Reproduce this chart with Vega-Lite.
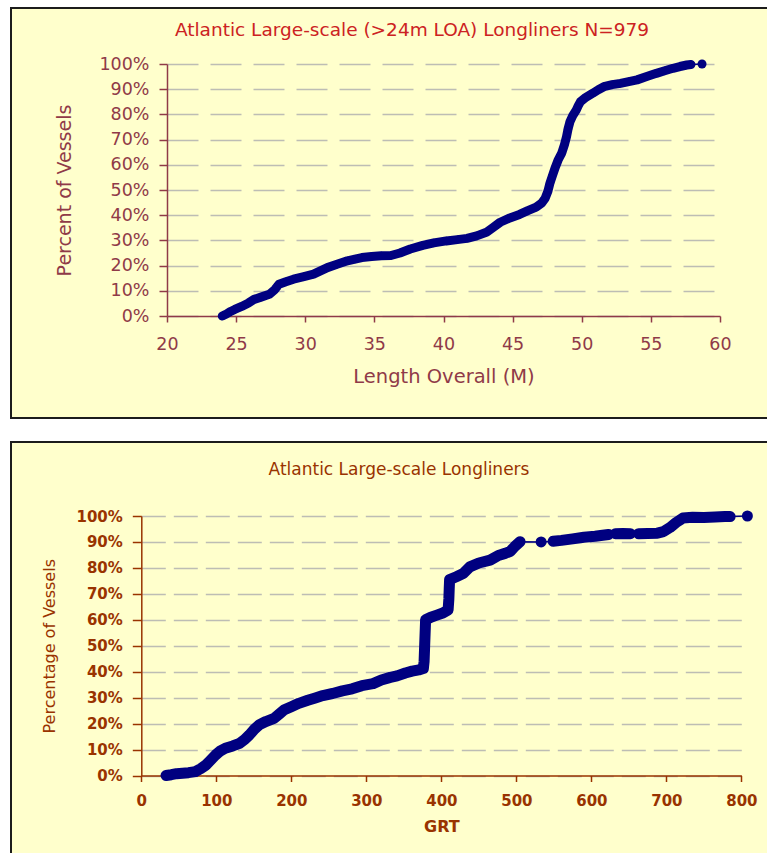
{
  "$schema": "https://vega.github.io/schema/vega-lite/v6.json",
  "background": "white",
  "padding": {"left": 10, "top": 7, "right": -3, "bottom": -4},
  "spacing": 22,
  "config": {
    "view": {"fill": "#FFFFCC", "stroke": "#1c1c1c", "strokeWidth": 2},
    "font": "DejaVu Sans",
    "axis": {"labelFlush": false, "labelOverlap": false}
  },
  "datasets": {
    "loa": [
      {"L": 24.0, "p": 0, "s": 1}, {"L": 24.3, "p": 0.8, "s": 1}, {"L": 24.6, "p": 1.8, "s": 1},
      {"L": 24.9, "p": 2.6, "s": 1}, {"L": 25.4, "p": 3.8, "s": 1}, {"L": 25.9, "p": 5.2, "s": 1},
      {"L": 26.3, "p": 6.6, "s": 1}, {"L": 26.8, "p": 7.5, "s": 1}, {"L": 27.4, "p": 8.6, "s": 1},
      {"L": 27.8, "p": 10.5, "s": 1}, {"L": 28.1, "p": 12.6, "s": 1}, {"L": 28.6, "p": 13.6, "s": 1},
      {"L": 29.15, "p": 14.6, "s": 1}, {"L": 29.9, "p": 15.6, "s": 1}, {"L": 30.6, "p": 16.6, "s": 1},
      {"L": 31.1, "p": 17.9, "s": 1}, {"L": 31.6, "p": 19.2, "s": 1}, {"L": 32.3, "p": 20.5, "s": 1},
      {"L": 33.05, "p": 21.9, "s": 1}, {"L": 33.6, "p": 22.6, "s": 1}, {"L": 34.1, "p": 23.2, "s": 1},
      {"L": 34.8, "p": 23.6, "s": 1}, {"L": 35.5, "p": 23.9, "s": 1}, {"L": 36.2, "p": 24.0, "s": 1},
      {"L": 36.85, "p": 25.0, "s": 1}, {"L": 37.6, "p": 26.6, "s": 1}, {"L": 38.5, "p": 28.0, "s": 1},
      {"L": 39.3, "p": 29.0, "s": 1}, {"L": 40.2, "p": 29.8, "s": 1}, {"L": 41.0, "p": 30.3, "s": 1},
      {"L": 41.7, "p": 30.8, "s": 1}, {"L": 42.4, "p": 31.8, "s": 1}, {"L": 43.1, "p": 33.2, "s": 1},
      {"L": 43.6, "p": 35.2, "s": 1}, {"L": 44.1, "p": 37.2, "s": 1}, {"L": 44.8, "p": 38.9, "s": 1},
      {"L": 45.5, "p": 40.3, "s": 1}, {"L": 46.1, "p": 41.8, "s": 1}, {"L": 46.7, "p": 43.2, "s": 1},
      {"L": 47.1, "p": 44.8, "s": 1}, {"L": 47.35, "p": 46.7, "s": 1}, {"L": 47.55, "p": 49.5, "s": 1},
      {"L": 47.7, "p": 52.7, "s": 1}, {"L": 47.9, "p": 56.0, "s": 1}, {"L": 48.1, "p": 59.2, "s": 1},
      {"L": 48.3, "p": 62.0, "s": 1}, {"L": 48.55, "p": 64.6, "s": 1}, {"L": 48.75, "p": 68.0, "s": 1},
      {"L": 48.9, "p": 71.2, "s": 1}, {"L": 49.0, "p": 74.0, "s": 1}, {"L": 49.15, "p": 77.1, "s": 1},
      {"L": 49.35, "p": 79.5, "s": 1}, {"L": 49.6, "p": 81.7, "s": 1}, {"L": 49.75, "p": 83.5, "s": 1},
      {"L": 49.9, "p": 85.0, "s": 1}, {"L": 50.3, "p": 86.8, "s": 1}, {"L": 50.8, "p": 88.4, "s": 1},
      {"L": 51.2, "p": 89.8, "s": 1}, {"L": 51.6, "p": 91.0, "s": 1}, {"L": 52.2, "p": 91.8, "s": 1},
      {"L": 52.8, "p": 92.3, "s": 1}, {"L": 53.4, "p": 93.0, "s": 1}, {"L": 54.0, "p": 93.7, "s": 1},
      {"L": 54.7, "p": 95.0, "s": 1}, {"L": 55.4, "p": 96.3, "s": 1}, {"L": 56.0, "p": 97.3, "s": 1},
      {"L": 56.6, "p": 98.3, "s": 1}, {"L": 57.1, "p": 99.0, "s": 1}, {"L": 57.6, "p": 99.6, "s": 1},
      {"L": 57.9, "p": 99.8, "s": 1}, {"L": 58.7, "p": 100, "s": 2}
    ],
    "grt": [
      {"G": 33, "q": 0, "s": 1}, {"G": 40, "q": 0.3, "s": 1}, {"G": 47, "q": 0.7, "s": 1},
      {"G": 55, "q": 0.9, "s": 1}, {"G": 63, "q": 1.1, "s": 1}, {"G": 72, "q": 1.5, "s": 1},
      {"G": 79, "q": 2.6, "s": 1}, {"G": 86, "q": 4.0, "s": 1}, {"G": 92, "q": 5.8, "s": 1},
      {"G": 99, "q": 7.9, "s": 1}, {"G": 105, "q": 9.4, "s": 1}, {"G": 112, "q": 10.5, "s": 1},
      {"G": 122, "q": 11.4, "s": 1}, {"G": 131, "q": 12.4, "s": 1}, {"G": 138, "q": 13.9, "s": 1},
      {"G": 144, "q": 15.6, "s": 1}, {"G": 150, "q": 17.6, "s": 1}, {"G": 157, "q": 19.5, "s": 1},
      {"G": 166, "q": 20.8, "s": 1}, {"G": 177, "q": 22.0, "s": 1}, {"G": 184, "q": 23.7, "s": 1},
      {"G": 190, "q": 25.2, "s": 1}, {"G": 200, "q": 26.5, "s": 1}, {"G": 210, "q": 27.8, "s": 1},
      {"G": 222, "q": 29.0, "s": 1}, {"G": 232, "q": 29.9, "s": 1}, {"G": 242, "q": 30.8, "s": 1},
      {"G": 255, "q": 31.6, "s": 1}, {"G": 268, "q": 32.6, "s": 1}, {"G": 281, "q": 33.4, "s": 1},
      {"G": 294, "q": 34.6, "s": 1}, {"G": 309, "q": 35.4, "s": 1}, {"G": 320, "q": 36.8, "s": 1},
      {"G": 332, "q": 37.8, "s": 1}, {"G": 341, "q": 38.4, "s": 1}, {"G": 352, "q": 39.5, "s": 1},
      {"G": 361, "q": 40.2, "s": 1}, {"G": 370, "q": 40.7, "s": 1}, {"G": 376, "q": 41.2, "s": 1},
      {"G": 377, "q": 44, "s": 1}, {"G": 377.5, "q": 48, "s": 1}, {"G": 378, "q": 52, "s": 1},
      {"G": 378.5, "q": 56, "s": 1}, {"G": 379, "q": 60, "s": 1}, {"G": 386, "q": 61.0, "s": 1},
      {"G": 394, "q": 61.8, "s": 1}, {"G": 402, "q": 62.6, "s": 1}, {"G": 409, "q": 63.8, "s": 1},
      {"G": 410, "q": 68, "s": 1}, {"G": 410.5, "q": 72, "s": 1}, {"G": 411, "q": 75.5, "s": 1},
      {"G": 420, "q": 76.6, "s": 1}, {"G": 429, "q": 77.8, "s": 1}, {"G": 438, "q": 80.4, "s": 1},
      {"G": 450, "q": 81.9, "s": 1}, {"G": 465, "q": 83.0, "s": 1}, {"G": 476, "q": 84.8, "s": 1},
      {"G": 485, "q": 85.6, "s": 1}, {"G": 492, "q": 86.4, "s": 1}, {"G": 498, "q": 88.3, "s": 1},
      {"G": 505, "q": 90.1, "s": 1}, {"G": 533, "q": 90.0, "s": 2}, {"G": 549, "q": 90.3, "s": 3},
      {"G": 560, "q": 90.6, "s": 3}, {"G": 575, "q": 91.2, "s": 3}, {"G": 590, "q": 91.8, "s": 3},
      {"G": 605, "q": 92.2, "s": 3}, {"G": 615, "q": 92.6, "s": 3}, {"G": 623, "q": 92.9, "s": 3},
      {"G": 632, "q": 93.2, "s": 4}, {"G": 642, "q": 93.3, "s": 4}, {"G": 652, "q": 93.2, "s": 4},
      {"G": 663, "q": 93.2, "s": 5}, {"G": 675, "q": 93.3, "s": 5}, {"G": 688, "q": 93.4, "s": 5},
      {"G": 696, "q": 94.0, "s": 5}, {"G": 705, "q": 95.6, "s": 5}, {"G": 713, "q": 97.5, "s": 5},
      {"G": 722, "q": 99.2, "s": 5}, {"G": 735, "q": 99.5, "s": 5}, {"G": 750, "q": 99.4, "s": 5},
      {"G": 765, "q": 99.6, "s": 5}, {"G": 778, "q": 99.8, "s": 5}, {"G": 785, "q": 99.8, "s": 5},
      {"G": 808, "q": 100, "s": 6}
    ]
  },
  "vconcat": [
    {
      "width": 758,
      "height": 410,
      "data": {"name": "loa"},
      "title": {
        "text": "Atlantic Large-scale (>24m LOA) Longliners N=979",
        "color": "#CC2222",
        "font": "DejaVu Sans",
        "fontSize": 18.5,
        "fontWeight": "normal",
        "anchor": "middle",
        "frame": "group",
        "offset": -31,
        "dx": 22
      },
      "encoding": {
        "x": {
          "field": "L",
          "type": "quantitative",
          "scale": {"domain": [20, 60], "range": [156, 709], "nice": false, "zero": false},
          "axis": {
            "values": [20, 25, 30, 35, 40, 45, 50, 55, 60],
            "offset": -102,
            "grid": false,
            "tickSize": 6,
            "tickWidth": 1.5,
            "tickColor": "#8F3A48",
            "domainColor": "#8F3A48",
            "domainWidth": 1.5,
            "labelColor": "#8F3A48",
            "labelFont": "DejaVu Sans",
            "labelFontSize": 17.5,
            "labelPadding": 13,
            "title": "Length Overall (M)",
            "titleColor": "#8F3A48",
            "titleFont": "DejaVu Sans",
            "titleFontSize": 19.5,
            "titleFontWeight": "normal",
            "titlePadding": 15
          }
        },
        "y": {
          "field": "p",
          "type": "quantitative",
          "scale": {"domain": [0, 100], "range": [308, 56], "nice": false},
          "axis": {
            "values": [0, 10, 20, 30, 40, 50, 60, 70, 80, 90, 100],
            "labelExpr": "datum.value + '%'",
            "offset": -156,
            "grid": true,
            "gridColor": "#BDBDB4",
            "gridWidth": 1.5,
            "gridDash": [31, 12],
            "tickSize": 8,
            "tickWidth": 1.5,
            "tickColor": "#8F3A48",
            "domainColor": "#8F3A48",
            "domainWidth": 1.5,
            "labelColor": "#8F3A48",
            "labelFont": "DejaVu Sans",
            "labelFontSize": 17.5,
            "labelPadding": 10,
            "title": "Percent of Vessels",
            "titleColor": "#8F3A48",
            "titleFont": "DejaVu Sans",
            "titleFontSize": 19,
            "titleFontWeight": "normal",
            "titlePadding": 24
          }
        }
      },
      "layer": [
        {"mark": {"type": "line", "color": "#000080", "strokeWidth": 1.5}},
        {
          "mark": {"type": "line", "color": "#000080", "strokeWidth": 9, "strokeJoin": "round", "strokeCap": "round"},
          "encoding": {"detail": {"field": "s", "type": "nominal"}}
        },
        {"mark": {"type": "point", "shape": "diamond", "filled": true, "size": 75, "color": "#000080", "opacity": 1}}
      ]
    },
    {
      "width": 758,
      "height": 414,
      "data": {"name": "grt"},
      "title": {
        "text": "Atlantic Large-scale Longliners",
        "color": "#993300",
        "font": "DejaVu Sans",
        "fontSize": 17,
        "fontWeight": "normal",
        "anchor": "middle",
        "frame": "group",
        "offset": -37,
        "dx": 9
      },
      "encoding": {
        "x": {
          "field": "G",
          "type": "quantitative",
          "scale": {"domain": [0, 800], "range": [130.3, 730.4], "nice": false, "zero": false},
          "axis": {
            "values": [0, 100, 200, 300, 400, 500, 600, 700, 800],
            "offset": -80.5,
            "grid": false,
            "tickSize": 6,
            "tickWidth": 1.5,
            "tickColor": "#993300",
            "domainColor": "#993300",
            "domainWidth": 1.5,
            "labelColor": "#993300",
            "labelFont": "DejaVu Sans",
            "labelFontSize": 15,
            "labelFontWeight": "bold",
            "labelPadding": 12,
            "title": "GRT",
            "titleColor": "#993300",
            "titleFont": "DejaVu Sans",
            "titleFontSize": 16,
            "titleFontWeight": "bold",
            "titlePadding": 10
          }
        },
        "y": {
          "field": "q",
          "type": "quantitative",
          "scale": {"domain": [0, 100], "range": [333.5, 74], "nice": false},
          "axis": {
            "values": [0, 10, 20, 30, 40, 50, 60, 70, 80, 90, 100],
            "labelExpr": "datum.value + '%'",
            "offset": -130.3,
            "grid": true,
            "gridColor": "#BDBDB4",
            "gridWidth": 1.5,
            "gridDash": [24, 8],
            "tickSize": 9,
            "tickWidth": 1.5,
            "tickColor": "#993300",
            "domainColor": "#993300",
            "domainWidth": 1.5,
            "labelColor": "#993300",
            "labelFont": "DejaVu Sans",
            "labelFontSize": 15,
            "labelFontWeight": "bold",
            "labelPadding": 10,
            "title": "Percentage of Vessels",
            "titleColor": "#993300",
            "titleFont": "DejaVu Sans",
            "titleFontSize": 16,
            "titleFontWeight": "normal",
            "titlePadding": 18
          }
        }
      },
      "layer": [
        {"mark": {"type": "line", "color": "#000080", "strokeWidth": 1.5}},
        {
          "mark": {"type": "line", "color": "#000080", "strokeWidth": 11, "strokeJoin": "round", "strokeCap": "round"},
          "encoding": {"detail": {"field": "s", "type": "nominal"}}
        },
        {"mark": {"type": "point", "shape": "diamond", "filled": true, "size": 90, "color": "#000080", "opacity": 1}}
      ]
    }
  ]
}
